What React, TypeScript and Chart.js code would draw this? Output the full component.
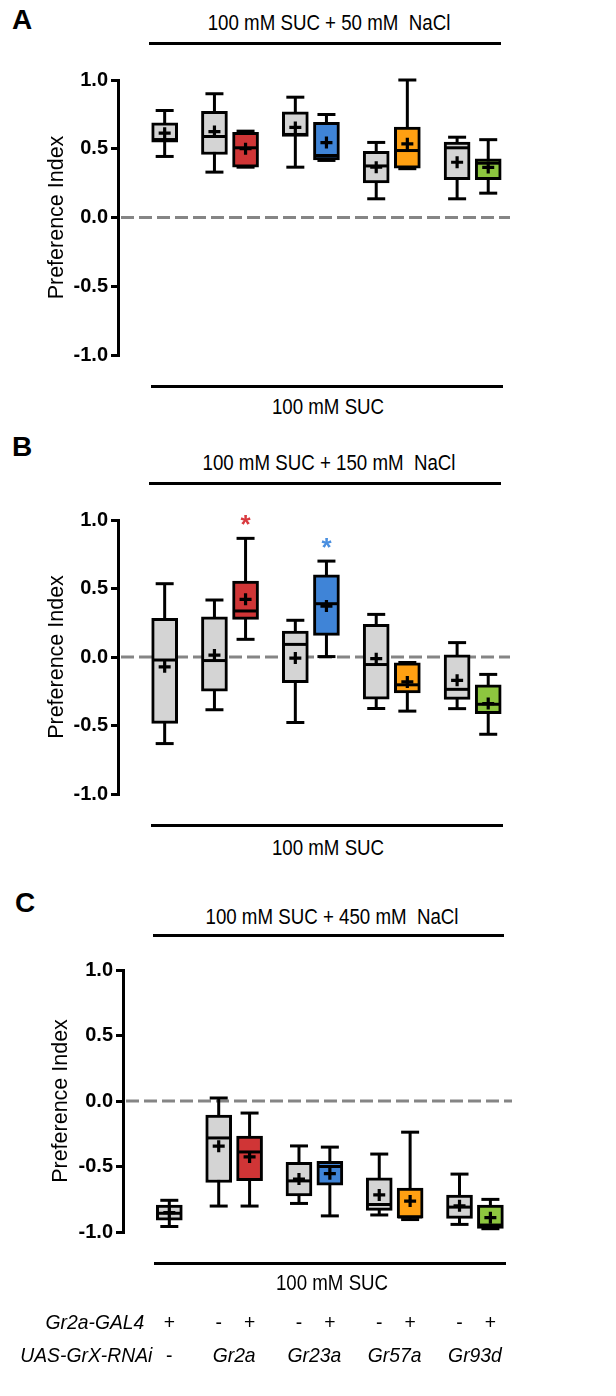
import React, { useEffect, useRef } from 'react';
import { Chart, registerables } from 'chart.js';

Chart.register(...registerables);

const FONT = '"Liberation Sans", Arial, Helvetica, sans-serif';

// ---------- categories ----------
const BOXES = [
  'Gr2a-GAL4/+',
  'UAS-Gr2a-RNAi/+', 'Gr2a>Gr2a-RNAi',
  'UAS-Gr23a-RNAi/+', 'Gr2a>Gr23a-RNAi',
  'UAS-Gr57a-RNAi/+', 'Gr2a>Gr57a-RNAi',
  'UAS-Gr93d-RNAi/+', 'Gr2a>Gr93d-RNAi',
];
const GAL4_ROW = ['+', '-', '+', '-', '+', '-', '+', '-', '+'];
const UAS_ROW = ['-', 'Gr2a', 'Gr23a', 'Gr57a', 'Gr93d'];
const GAL4_LABEL = 'Gr2a-GAL4';
const UAS_LABEL = 'UAS-GrX-RNAi';

const TITLES = ['100 mM SUC + 50 mM  NaCl', '100 mM SUC + 150 mM  NaCl', '100 mM SUC + 450 mM  NaCl'];
const BASE_LABEL = '100 mM SUC';
const PANEL_LETTERS = ['A', 'B', 'C'];
const Y_TITLE = 'Preference Index';
const Y_TICKS = [-1, -0.5, 0, 0.5, 1];
const Y_TICK_LABELS = ['-1.0', '-0.5', '0.0', '0.5', '1.0'];

// ---------- panel A : 100 mM SUC + 50 mM NaCl ----------
const minA = [0.444, 0.33, 0.366, 0.366, 0.415, 0.136, 0.355, 0.136, 0.177];
const q1A = [0.548, 0.458, 0.366, 0.59, 0.419, 0.252, 0.359, 0.276, 0.276];
const medA = [0.567, 0.589, 0.507, 0.604, 0.451, 0.375, 0.487, 0.507, 0.395];
const q3A = [0.689, 0.773, 0.62, 0.768, 0.693, 0.482, 0.657, 0.548, 0.427];
const maxA = [0.778, 0.9, 0.628, 0.875, 0.749, 0.546, 1.0, 0.584, 0.566];
const meanA = [0.613, 0.625, 0.5, 0.655, 0.545, 0.366, 0.536, 0.402, 0.364];

// ---------- panel B : 100 mM SUC + 150 mM NaCl ----------
const minB = [-0.632, -0.385, 0.129, -0.478, 0.003, -0.376, -0.395, -0.377, -0.564];
const q1B = [-0.484, -0.25, 0.275, -0.188, 0.158, -0.307, -0.262, -0.309, -0.414];
const medB = [-0.022, -0.026, 0.336, 0.092, 0.389, -0.055, -0.203, -0.236, -0.345];
const q3B = [0.282, 0.294, 0.555, 0.19, 0.599, 0.238, -0.042, 0.015, -0.204];
const maxB = [0.535, 0.416, 0.866, 0.268, 0.7, 0.311, -0.04, 0.105, -0.127];
const meanB = [-0.072, 0.014, 0.421, -0.008, 0.372, -0.012, -0.182, -0.17, -0.34];
const sigB = ['', '', '*', '', '*', '', '', '', ''];

// ---------- panel C : 100 mM SUC + 450 mM NaCl ----------
const minC = [-0.958, -0.802, -0.802, -0.782, -0.877, -0.87, -0.905, -0.942, -0.975];
const q1C = [-0.91, -0.622, -0.609, -0.725, -0.642, -0.835, -0.895, -0.896, -0.972];
const medC = [-0.857, -0.282, -0.389, -0.61, -0.5, -0.79, -0.885, -0.81, -0.947];
const q3C = [-0.794, -0.108, -0.268, -0.468, -0.46, -0.586, -0.665, -0.718, -0.794];
const maxC = [-0.758, 0.023, -0.092, -0.343, -0.352, -0.405, -0.238, -0.558, -0.751];
const meanC = [-0.852, -0.345, -0.427, -0.596, -0.555, -0.717, -0.764, -0.8, -0.891];
const sigNone = ['', '', '', '', '', '', '', '', ''];

// ---------- layout / style ----------
const X_POS = [0, 1.6, 2.6, 4.2, 5.2, 6.8, 7.8, 9.4, 10.4];
const GRAY = '#d4d4d4';
const RED = '#d03536';
const BLUE = '#3f84d7';
const ORANGE = '#ffa012';
const GREEN = '#8dc63f';
const BOX_COLORS = [GRAY, GRAY, RED, GRAY, BLUE, GRAY, ORANGE, GRAY, GREEN];
const STAR_COLORS = ['#000', '#000', '#d9393e', '#000', '#4a8fe0', '#000', '#000', '#000', '#000'];

type Panel = {
  min: number[]; q1: number[]; med: number[]; q3: number[]; max: number[]; mean: number[]; sig: string[];
  top: number; height: number; pad: { top: number; bottom: number; left: number; right: number };
  axisW: number; titlePad: number; genotypes: boolean;
};

const PANELS: Panel[] = [
  { min: minA, q1: q1A, med: medA, q3: q3A, max: maxA, mean: meanA, sig: sigNone,
    top: 60, height: 310, pad: { top: 20, bottom: 15, left: 0, right: 106 }, axisW: 118, titlePad: 44, genotypes: false },
  { min: minB, q1: q1B, med: medB, q3: q3B, max: maxB, mean: meanB, sig: sigB,
    top: 500, height: 310, pad: { top: 20, bottom: 16, left: 0, right: 106 }, axisW: 118, titlePad: 44, genotypes: false },
  { min: minC, q1: q1C, med: medC, q3: q3C, max: maxC, mean: meanC, sig: sigNone,
    top: 950, height: 446, pad: { top: 20, bottom: 164, left: 0, right: 104 }, axisW: 123, titlePad: 48, genotypes: true },
];

const zeroLine = {
  id: 'zeroLine',
  beforeDatasetsDraw(chart: any) {
    const { ctx, chartArea, scales } = chart;
    const py = scales.y.getPixelForValue(0);
    ctx.save();
    ctx.setLineDash([13, 5]);
    ctx.strokeStyle = '#858585';
    ctx.lineWidth = 3;
    ctx.beginPath();
    ctx.moveTo(chartArea.left + 3, py);
    ctx.lineTo(chartArea.right, py);
    ctx.stroke();
    ctx.restore();
  },
};

function drawNarrow(ctx: any, text: string, x: number, y: number, sx: number) {
  ctx.save();
  ctx.translate(x, y);
  ctx.scale(sx, 1);
  ctx.fillText(text, 0, 0);
  ctx.restore();
}

function makeExtras(p: Panel) {
  return {
    id: 'extras',
    afterDraw(chart: any) {
      const { ctx, chartArea, scales } = chart;
      const xs = scales.x;
      const ys = scales.y;
      ctx.save();
      // significance stars
      ctx.font = `bold 26px ${FONT}`;
      ctx.textAlign = 'center';
      ctx.textBaseline = 'alphabetic';
      p.sig.forEach((s, i) => {
        if (!s) return;
        ctx.fillStyle = STAR_COLORS[i];
        ctx.fillText(s, xs.getPixelForValue(X_POS[i]), ys.getPixelForValue(p.max[i]) - 5);
      });
      // genotype rows
      if (p.genotypes) {
        const sx = 0.92;
        ctx.fillStyle = '#000';
        ctx.font = `italic 21px ${FONT}`;
        ctx.textBaseline = 'middle';
        const y1 = chartArea.bottom + 91;
        const y2 = chartArea.bottom + 124;
        const x0 = xs.getPixelForValue(X_POS[0]);
        ctx.textAlign = 'right';
        drawNarrow(ctx, GAL4_LABEL, x0 - 25, y1, sx);
        drawNarrow(ctx, UAS_LABEL, x0 - 17, y2, sx);
        ctx.textAlign = 'center';
        ctx.font = `21px ${FONT}`;
        GAL4_ROW.forEach((s, i) => drawNarrow(ctx, s, xs.getPixelForValue(X_POS[i]), y1, sx));
        drawNarrow(ctx, UAS_ROW[0], x0, y2, sx);
        ctx.font = `italic 21px ${FONT}`;
        for (let g = 1; g < UAS_ROW.length; g++) {
          const a = xs.getPixelForValue(X_POS[2 * g - 1]);
          const b = xs.getPixelForValue(X_POS[2 * g]);
          drawNarrow(ctx, UAS_ROW[g], (a + b) / 2, y2, sx);
        }
      }
      ctx.restore();
    },
  };
}

function buildConfig(p: Panel): any {
  const boxData = X_POS.map((x, i) => ({ x, y: [p.q1[i], p.q3[i]] }));
  const whiskerData = X_POS.map((x, i) => ({ x, y: [p.min[i], p.max[i]] }));
  const capData = X_POS.flatMap((x, i) => [{ x, y: p.min[i] }, { x, y: p.max[i] }]);
  const medData = X_POS.map((x, i) => ({ x, y: p.med[i] }));
  const meanData = X_POS.map((x, i) => ({ x, y: p.mean[i] }));
  return {
    type: 'bar',
    data: {
      labels: BOXES,
      datasets: [
        { type: 'scatter', label: 'mean', data: meanData, pointStyle: 'cross', pointRadius: 6, pointBorderWidth: 3.2,
          pointBorderColor: '#000', pointBackgroundColor: '#000', clip: false },
        { type: 'scatter', label: 'median', data: medData, pointStyle: 'line', pointRadius: 12, pointBorderWidth: 3,
          pointBorderColor: '#000', clip: false },
        { type: 'bar', label: 'box', data: boxData, backgroundColor: BOX_COLORS, borderColor: '#000', borderWidth: 3,
          borderSkipped: false, barThickness: 26, grouped: false, clip: false },
        { type: 'scatter', label: 'caps', data: capData, pointStyle: 'line', pointRadius: 9, pointBorderWidth: 3,
          pointBorderColor: '#000', clip: false },
        { type: 'bar', label: 'whisker', data: whiskerData, backgroundColor: '#000', borderWidth: 0,
          barThickness: 3, grouped: false, inflateAmount: 0, clip: false },
      ],
    },
    options: {
      responsive: false,
      animation: false,
      events: [],
      layout: { padding: p.pad },
      plugins: { legend: { display: false }, tooltip: { enabled: false } },
      scales: {
        x: { type: 'linear', display: false, min: -1.5, max: 11.1, offset: false },
        y: {
          min: -1, max: 1,
          afterBuildTicks: (s: any) => { s.ticks = Y_TICKS.map((v) => ({ value: v })); },
          afterFit: (s: any) => { s.width = p.axisW; },
          ticks: {
            callback: (v: number) => Y_TICK_LABELS[Y_TICKS.indexOf(v)],
            font: { family: FONT, size: 20, weight: 'bold' },
            color: '#000',
            padding: 3,
          },
          grid: { drawOnChartArea: false, drawTicks: true, tickLength: 7, lineWidth: 3, color: '#000' },
          border: { display: true, width: 3, color: '#000' },
          title: { display: true, text: Y_TITLE, color: '#000', font: { family: FONT, size: 21.5 },
            padding: { top: p.titlePad, bottom: 0 } },
        },
      },
    },
    plugins: [zeroLine, makeExtras(p)],
  };
}

function PanelChart({ p }: { p: Panel }) {
  const ref = useRef<HTMLCanvasElement | null>(null);
  useEffect(() => {
    if (!ref.current) return;
    const chart = new Chart(ref.current, buildConfig(p));
    return () => chart.destroy();
  }, [p]);
  return (
    <canvas ref={ref} width={616} height={p.height}
      style={{ position: 'absolute', left: 0, top: p.top, width: 616, height: p.height }} />
  );
}

function Txt({ x, y, children, style, sx = 1 }: any) {
  return (
    <div style={{ position: 'absolute', left: x, top: y, transform: `translate(-50%,-50%) scaleX(${sx})`, whiteSpace: 'pre',
      lineHeight: 1, fontFamily: FONT, fontSize: 19, color: '#000', ...style }}>{children}</div>
  );
}

function HLine({ x1, x2, y }: any) {
  return <div style={{ position: 'absolute', left: x1, top: y - 1.5, width: x2 - x1, height: 3, background: '#000' }} />;
}

const HEADERS = [
  { letter: [22, 20], title: [329, 23], top: [149, 501, 43], bottom: [151, 503, 386], base: [328, 407] },
  { letter: [22, 447], title: [329, 463], top: [149, 501, 483], bottom: [151, 503, 825], base: [328, 848] },
  { letter: [25, 903], title: [332, 917], top: [153, 504, 935], bottom: [154, 506, 1263], base: [332, 1283] },
];

export default function App() {
  return (
    <div style={{ position: 'absolute', left: 0, top: 0, width: 616, height: 1396, background: '#fff', overflow: 'hidden' }}>
      {PANELS.map((p, i) => <PanelChart key={i} p={p} />)}
      {HEADERS.map((h, i) => (
        <React.Fragment key={i}>
          <Txt x={h.letter[0]} y={h.letter[1]} style={{ fontSize: 28, fontWeight: 'bold' }}>{PANEL_LETTERS[i]}</Txt>
          <Txt x={h.title[0]} y={h.title[1]} sx={0.85} style={{ fontSize: 22 }}>{TITLES[i]}</Txt>
          <HLine x1={h.top[0]} x2={h.top[1]} y={h.top[2]} />
          <HLine x1={h.bottom[0]} x2={h.bottom[1]} y={h.bottom[2]} />
          <Txt x={h.base[0]} y={h.base[1]} sx={0.85} style={{ fontSize: 22 }}>{BASE_LABEL}</Txt>
        </React.Fragment>
      ))}
    </div>
  );
}
